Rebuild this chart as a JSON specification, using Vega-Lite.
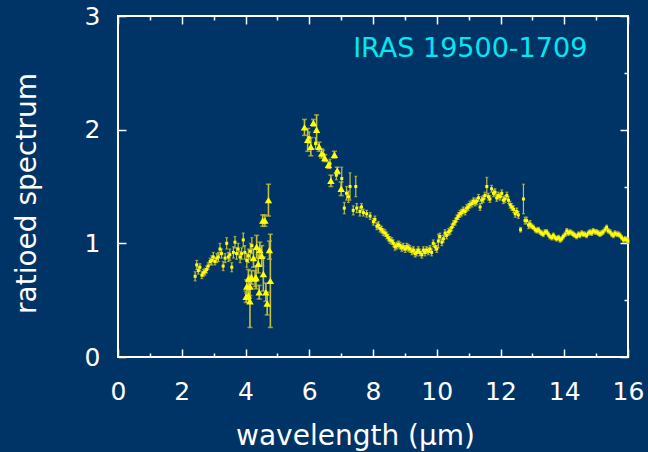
{
  "$schema": "https://vega.github.io/schema/vega-lite/v6.json",
  "width": 510,
  "height": 341,
  "autosize": {"type": "none"},
  "padding": {"left": 118, "top": 16, "right": 20, "bottom": 95},
  "background": "#003366",
  "config": {
    "view": {"stroke": "#ffffff", "strokeWidth": 2},
    "axis": {
      "domain": false,
      "grid": false,
      "tickColor": "#ffffff",
      "tickWidth": 1.5,
      "labelColor": "#ffffff",
      "titleColor": "#ffffff",
      "labelFont": "DejaVu Sans",
      "titleFont": "DejaVu Sans",
      "labelFontSize": 25,
      "titleFontSize": 28,
      "titleFontWeight": "normal"
    }
  },
  "datasets": {
    "sws": [
      {"w": 2.42, "r": 0.71, "e": 0.04}, {"w": 2.47, "r": 0.81, "e": 0.04}, {"w": 2.52, "r": 0.76, "e": 0.03},
      {"w": 2.57, "r": 0.79, "e": 0.03}, {"w": 2.63, "r": 0.72, "e": 0.03}, {"w": 2.68, "r": 0.74, "e": 0.03},
      {"w": 2.73, "r": 0.75, "e": 0.03}, {"w": 2.78, "r": 0.77, "e": 0.03}, {"w": 2.83, "r": 0.80, "e": 0.03},
      {"w": 2.89, "r": 0.84, "e": 0.03}, {"w": 2.94, "r": 0.85, "e": 0.04}, {"w": 2.99, "r": 0.88, "e": 0.04},
      {"w": 3.04, "r": 0.84, "e": 0.03}, {"w": 3.10, "r": 0.87, "e": 0.04}, {"w": 3.15, "r": 0.88, "e": 0.04},
      {"w": 3.20, "r": 0.95, "e": 0.05}, {"w": 3.25, "r": 0.91, "e": 0.04}, {"w": 3.30, "r": 0.80, "e": 0.04},
      {"w": 3.36, "r": 0.87, "e": 0.04}, {"w": 3.41, "r": 1.00, "e": 0.05}, {"w": 3.46, "r": 0.88, "e": 0.04},
      {"w": 3.51, "r": 0.90, "e": 0.05}, {"w": 3.57, "r": 0.79, "e": 0.04}, {"w": 3.62, "r": 0.92, "e": 0.05},
      {"w": 3.67, "r": 1.01, "e": 0.05}, {"w": 3.72, "r": 0.91, "e": 0.05}, {"w": 3.77, "r": 0.95, "e": 0.05},
      {"w": 3.83, "r": 0.88, "e": 0.05}, {"w": 3.88, "r": 0.91, "e": 0.05}, {"w": 3.93, "r": 1.03, "e": 0.06},
      {"w": 3.98, "r": 0.92, "e": 0.06}, {"w": 4.04, "r": 0.85, "e": 0.06}, {"w": 4.09, "r": 0.89, "e": 0.06},
      {"w": 4.15, "r": 0.93, "e": 0.07}, {"w": 4.20, "r": 0.98, "e": 0.07},
      {"w": 6.00, "r": 1.93, "e": 0.05}, {"w": 6.20, "r": 1.88, "e": 0.05}, {"w": 6.45, "r": 1.78, "e": 0.04},
      {"w": 6.65, "r": 1.70, "e": 0.04}, {"w": 6.85, "r": 1.60, "e": 0.04}, {"w": 7.02, "r": 1.57, "e": 0.10},
      {"w": 7.10, "r": 1.31, "e": 0.05}, {"w": 7.17, "r": 1.44, "e": 0.06}, {"w": 7.23, "r": 1.41, "e": 0.05},
      {"w": 7.28, "r": 1.50, "e": 0.12}, {"w": 7.38, "r": 1.29, "e": 0.04}, {"w": 7.46, "r": 1.50, "e": 0.09},
      {"w": 7.49, "r": 1.31, "e": 0.04}, {"w": 7.59, "r": 1.28, "e": 0.04}, {"w": 7.64, "r": 1.32, "e": 0.03},
      {"w": 7.70, "r": 1.27, "e": 0.03}, {"w": 7.80, "r": 1.26, "e": 0.03}, {"w": 7.91, "r": 1.24, "e": 0.03},
      {"w": 8.01, "r": 1.19, "e": 0.03}, {"w": 8.06, "r": 1.21, "e": 0.03}, {"w": 8.12, "r": 1.15, "e": 0.03},
      {"w": 8.17, "r": 1.16, "e": 0.03}, {"w": 8.22, "r": 1.13, "e": 0.03}, {"w": 8.27, "r": 1.12, "e": 0.03},
      {"w": 8.32, "r": 1.10, "e": 0.03}, {"w": 8.38, "r": 1.09, "e": 0.03}, {"w": 8.43, "r": 1.07, "e": 0.03},
      {"w": 8.48, "r": 1.05, "e": 0.03}, {"w": 8.53, "r": 1.03, "e": 0.03}, {"w": 8.59, "r": 1.02, "e": 0.03},
      {"w": 8.64, "r": 1.00, "e": 0.03}, {"w": 8.69, "r": 0.97, "e": 0.03}, {"w": 8.74, "r": 0.98, "e": 0.03},
      {"w": 8.80, "r": 0.99, "e": 0.03}, {"w": 8.85, "r": 0.98, "e": 0.03}, {"w": 8.90, "r": 0.96, "e": 0.03},
      {"w": 8.95, "r": 0.97, "e": 0.03}, {"w": 9.01, "r": 0.95, "e": 0.03}, {"w": 9.06, "r": 0.97, "e": 0.03},
      {"w": 9.11, "r": 0.96, "e": 0.03}, {"w": 9.16, "r": 0.95, "e": 0.03}, {"w": 9.22, "r": 0.93, "e": 0.03},
      {"w": 9.27, "r": 0.94, "e": 0.03}, {"w": 9.32, "r": 0.91, "e": 0.03}, {"w": 9.37, "r": 0.92, "e": 0.03},
      {"w": 9.42, "r": 0.94, "e": 0.03}, {"w": 9.47, "r": 0.92, "e": 0.03}, {"w": 9.53, "r": 0.90, "e": 0.03},
      {"w": 9.58, "r": 0.94, "e": 0.03}, {"w": 9.63, "r": 0.92, "e": 0.03}, {"w": 9.68, "r": 0.94, "e": 0.03},
      {"w": 9.74, "r": 0.93, "e": 0.03}, {"w": 9.79, "r": 0.95, "e": 0.03}, {"w": 9.84, "r": 0.92, "e": 0.03},
      {"w": 9.89, "r": 1.00, "e": 0.03}, {"w": 9.95, "r": 0.97, "e": 0.03}, {"w": 10.00, "r": 0.95, "e": 0.03},
      {"w": 10.05, "r": 1.02, "e": 0.06}, {"w": 10.10, "r": 1.06, "e": 0.03}, {"w": 10.16, "r": 1.01, "e": 0.03},
      {"w": 10.21, "r": 1.04, "e": 0.03}, {"w": 10.26, "r": 1.09, "e": 0.03}, {"w": 10.31, "r": 1.07, "e": 0.03},
      {"w": 10.37, "r": 1.10, "e": 0.03}, {"w": 10.42, "r": 1.11, "e": 0.03}, {"w": 10.47, "r": 1.14, "e": 0.03},
      {"w": 10.52, "r": 1.17, "e": 0.03}, {"w": 10.58, "r": 1.19, "e": 0.03}, {"w": 10.63, "r": 1.22, "e": 0.03},
      {"w": 10.68, "r": 1.24, "e": 0.03}, {"w": 10.73, "r": 1.26, "e": 0.03}, {"w": 10.78, "r": 1.27, "e": 0.03},
      {"w": 10.83, "r": 1.29, "e": 0.03}, {"w": 10.89, "r": 1.28, "e": 0.03}, {"w": 10.94, "r": 1.31, "e": 0.03},
      {"w": 10.99, "r": 1.32, "e": 0.03}, {"w": 11.04, "r": 1.34, "e": 0.03}, {"w": 11.10, "r": 1.35, "e": 0.03},
      {"w": 11.15, "r": 1.37, "e": 0.03}, {"w": 11.20, "r": 1.36, "e": 0.03}, {"w": 11.25, "r": 1.37, "e": 0.03},
      {"w": 11.31, "r": 1.40, "e": 0.03}, {"w": 11.36, "r": 1.32, "e": 0.03}, {"w": 11.41, "r": 1.38, "e": 0.03},
      {"w": 11.46, "r": 1.39, "e": 0.03}, {"w": 11.51, "r": 1.42, "e": 0.03}, {"w": 11.57, "r": 1.50, "e": 0.08},
      {"w": 11.62, "r": 1.41, "e": 0.03}, {"w": 11.67, "r": 1.39, "e": 0.03}, {"w": 11.72, "r": 1.48, "e": 0.03},
      {"w": 11.78, "r": 1.44, "e": 0.03}, {"w": 11.83, "r": 1.45, "e": 0.03}, {"w": 11.88, "r": 1.40, "e": 0.03},
      {"w": 11.93, "r": 1.42, "e": 0.03}, {"w": 11.99, "r": 1.41, "e": 0.03}, {"w": 12.04, "r": 1.44, "e": 0.03},
      {"w": 12.09, "r": 1.38, "e": 0.03}, {"w": 12.14, "r": 1.39, "e": 0.03}, {"w": 12.20, "r": 1.42, "e": 0.03},
      {"w": 12.25, "r": 1.38, "e": 0.03}, {"w": 12.30, "r": 1.34, "e": 0.03}, {"w": 12.35, "r": 1.32, "e": 0.03},
      {"w": 12.41, "r": 1.30, "e": 0.03}, {"w": 12.46, "r": 1.26, "e": 0.03}, {"w": 12.51, "r": 1.28, "e": 0.03},
      {"w": 12.56, "r": 1.25, "e": 0.03}, {"w": 12.63, "r": 1.12, "e": 0.02}, {"w": 12.72, "r": 1.39, "e": 0.13},
      {"w": 12.77, "r": 1.20, "e": 0.03}, {"w": 12.82, "r": 1.20, "e": 0.03}, {"w": 12.88, "r": 1.16, "e": 0.03},
      {"w": 12.93, "r": 1.17, "e": 0.03}, {"w": 12.98, "r": 1.15, "e": 0.02}, {"w": 13.03, "r": 1.14, "e": 0.02},
      {"w": 13.09, "r": 1.12, "e": 0.02}, {"w": 13.14, "r": 1.11, "e": 0.02}, {"w": 13.19, "r": 1.12, "e": 0.02},
      {"w": 13.24, "r": 1.10, "e": 0.02}, {"w": 13.29, "r": 1.09, "e": 0.02}, {"w": 13.34, "r": 1.08, "e": 0.02},
      {"w": 13.40, "r": 1.10, "e": 0.02}, {"w": 13.45, "r": 1.10, "e": 0.02}, {"w": 13.50, "r": 1.08, "e": 0.02},
      {"w": 13.55, "r": 1.06, "e": 0.02}, {"w": 13.61, "r": 1.05, "e": 0.02}, {"w": 13.66, "r": 1.07, "e": 0.02},
      {"w": 13.71, "r": 1.05, "e": 0.02}, {"w": 13.76, "r": 1.04, "e": 0.02}, {"w": 13.82, "r": 1.05, "e": 0.02},
      {"w": 13.87, "r": 1.03, "e": 0.02}, {"w": 13.92, "r": 1.04, "e": 0.02}, {"w": 13.97, "r": 1.06, "e": 0.02},
      {"w": 14.03, "r": 1.08, "e": 0.02}, {"w": 14.08, "r": 1.11, "e": 0.02}, {"w": 14.13, "r": 1.09, "e": 0.02},
      {"w": 14.18, "r": 1.10, "e": 0.02}, {"w": 14.24, "r": 1.09, "e": 0.02}, {"w": 14.29, "r": 1.08, "e": 0.02},
      {"w": 14.34, "r": 1.07, "e": 0.02}, {"w": 14.39, "r": 1.06, "e": 0.02}, {"w": 14.45, "r": 1.08, "e": 0.02},
      {"w": 14.49, "r": 1.07, "e": 0.02}, {"w": 14.55, "r": 1.09, "e": 0.02}, {"w": 14.60, "r": 1.08, "e": 0.02},
      {"w": 14.65, "r": 1.08, "e": 0.02}, {"w": 14.70, "r": 1.07, "e": 0.02}, {"w": 14.76, "r": 1.09, "e": 0.02},
      {"w": 14.81, "r": 1.10, "e": 0.02}, {"w": 14.86, "r": 1.09, "e": 0.02}, {"w": 14.91, "r": 1.11, "e": 0.02},
      {"w": 14.97, "r": 1.10, "e": 0.02}, {"w": 15.02, "r": 1.10, "e": 0.02}, {"w": 15.07, "r": 1.09, "e": 0.02},
      {"w": 15.12, "r": 1.08, "e": 0.02}, {"w": 15.17, "r": 1.09, "e": 0.02}, {"w": 15.22, "r": 1.10, "e": 0.02},
      {"w": 15.28, "r": 1.12, "e": 0.02}, {"w": 15.33, "r": 1.14, "e": 0.02}, {"w": 15.38, "r": 1.11, "e": 0.02},
      {"w": 15.44, "r": 1.10, "e": 0.02}, {"w": 15.49, "r": 1.08, "e": 0.02}, {"w": 15.54, "r": 1.07, "e": 0.02},
      {"w": 15.59, "r": 1.09, "e": 0.02}, {"w": 15.65, "r": 1.08, "e": 0.02}, {"w": 15.70, "r": 1.08, "e": 0.02},
      {"w": 15.75, "r": 1.07, "e": 0.02}, {"w": 15.80, "r": 1.05, "e": 0.02}, {"w": 15.86, "r": 1.03, "e": 0.02},
      {"w": 15.91, "r": 1.04, "e": 0.02}, {"w": 15.96, "r": 1.03, "e": 0.02}, {"w": 16.00, "r": 1.02, "e": 0.02}
    ],
    "ground": [
      {"w": 4.02, "r": 0.53, "e": 0.05}, {"w": 4.04, "r": 0.62, "e": 0.06}, {"w": 4.09, "r": 0.69, "e": 0.08},
      {"w": 4.09, "r": 0.54, "e": 0.06}, {"w": 4.14, "r": 0.49, "e": 0.23}, {"w": 4.14, "r": 0.62, "e": 0.08},
      {"w": 4.19, "r": 0.70, "e": 0.06}, {"w": 4.25, "r": 0.87, "e": 0.08}, {"w": 4.30, "r": 0.69, "e": 0.07},
      {"w": 4.33, "r": 0.70, "e": 0.10}, {"w": 4.35, "r": 0.97, "e": 0.10}, {"w": 4.40, "r": 0.82, "e": 0.08},
      {"w": 4.43, "r": 0.57, "e": 0.06}, {"w": 4.45, "r": 0.94, "e": 0.07}, {"w": 4.51, "r": 0.89, "e": 0.09},
      {"w": 4.54, "r": 1.20, "e": 0.05}, {"w": 4.56, "r": 0.73, "e": 0.15}, {"w": 4.61, "r": 1.20, "e": 0.05},
      {"w": 4.64, "r": 0.57, "e": 0.08}, {"w": 4.68, "r": 0.47, "e": 0.10}, {"w": 4.72, "r": 1.38, "e": 0.14},
      {"w": 4.75, "r": 0.94, "e": 0.08}, {"w": 4.78, "r": 0.67, "e": 0.41},
      {"w": 5.85, "r": 2.02, "e": 0.07}, {"w": 5.95, "r": 1.91, "e": 0.10}, {"w": 6.05, "r": 1.85, "e": 0.08},
      {"w": 6.13, "r": 2.06, "e": 0.03}, {"w": 6.23, "r": 2.00, "e": 0.13}, {"w": 6.31, "r": 1.85, "e": 0.04},
      {"w": 6.39, "r": 1.79, "e": 0.04}, {"w": 6.49, "r": 1.75, "e": 0.03}, {"w": 6.60, "r": 1.69, "e": 0.03},
      {"w": 6.68, "r": 1.55, "e": 0.05}, {"w": 6.79, "r": 1.78, "e": 0.03}, {"w": 6.88, "r": 1.64, "e": 0.03},
      {"w": 7.00, "r": 1.48, "e": 0.06}
    ],
    "tag": [{"w": 11.05, "r": 2.64, "t": "IRAS 19500-1709"}]
  },
  "layer": [
    {
      "data": {"name": "sws"},
      "mark": {"type": "errorbar", "color": "#c4c23c", "thickness": 1.2, "ticks": {"size": 3}},
      "encoding": {
        "x": {"field": "w", "type": "quantitative", "scale": {"domain": [0, 16], "nice": false, "zero": false}, "axis": null},
        "y": {"field": "r", "type": "quantitative", "scale": {"domain": [0, 3], "nice": false, "zero": false}, "axis": null},
        "yError": {"field": "e"}
      }
    },
    {
      "data": {"name": "ground"},
      "mark": {"type": "errorbar", "color": "#c4c23c", "thickness": 1.6, "ticks": {"size": 5}},
      "encoding": {
        "x": {"field": "w", "type": "quantitative", "axis": null},
        "y": {"field": "r", "type": "quantitative", "axis": null},
        "yError": {"field": "e"}
      }
    },
    {
      "data": {"name": "sws"},
      "mark": {"type": "square", "size": 9, "color": "#ffff00", "opacity": 1},
      "encoding": {
        "x": {
          "field": "w", "type": "quantitative",
          "axis": {
            "orient": "bottom",
            "values": [0, 1, 2, 3, 4, 5, 6, 7, 8, 9, 10, 11, 12, 13, 14, 15, 16],
            "format": "d",
            "tickSize": {"condition": {"test": "datum.value % 2", "value": -4}, "value": -8},
            "labelExpr": "datum.value % 2 ? '' : datum.label",
            "labelFlush": false,
            "labelPadding": 30,
            "title": "wavelength (µm)",
            "titleX": 237,
            "titleY": 87,
            "titleBaseline": "alphabetic"
          }
        },
        "y": {
          "field": "r", "type": "quantitative",
          "axis": {
            "orient": "left",
            "values": [0, 0.5, 1, 1.5, 2, 2.5, 3],
            "format": "d",
            "tickSize": {"condition": {"test": "datum.value % 1", "value": -4}, "value": -8},
            "labelExpr": "datum.value % 1 ? '' : datum.label",
            "labelFlush": false,
            "labelPadding": 26,
            "title": "ratioed spectrum",
            "titleX": -83,
            "titleY": 177,
            "titleBaseline": "alphabetic"
          }
        }
      }
    },
    {
      "data": {"name": "ground"},
      "mark": {"type": "point", "shape": "triangle-up", "size": 55, "filled": true, "color": "#ffff00", "opacity": 1},
      "encoding": {
        "x": {
          "field": "w", "type": "quantitative",
          "axis": {
            "orient": "top",
            "values": [0, 1, 2, 3, 4, 5, 6, 7, 8, 9, 10, 11, 12, 13, 14, 15, 16],
            "tickSize": {"condition": {"test": "datum.value % 2", "value": -4}, "value": -8},
            "labels": false,
            "title": null
          }
        },
        "y": {
          "field": "r", "type": "quantitative",
          "axis": {
            "orient": "right",
            "values": [0, 0.5, 1, 1.5, 2, 2.5, 3],
            "tickSize": {"condition": {"test": "datum.value % 1", "value": -4}, "value": -8},
            "labels": false,
            "title": null
          }
        }
      }
    },
    {
      "data": {"name": "tag"},
      "mark": {"type": "text", "font": "DejaVu Sans", "fontSize": 27, "color": "#00e8f0", "align": "center", "baseline": "alphabetic"},
      "encoding": {
        "x": {"field": "w", "type": "quantitative", "axis": null},
        "y": {"field": "r", "type": "quantitative", "axis": null},
        "text": {"field": "t"}
      }
    }
  ]
}
